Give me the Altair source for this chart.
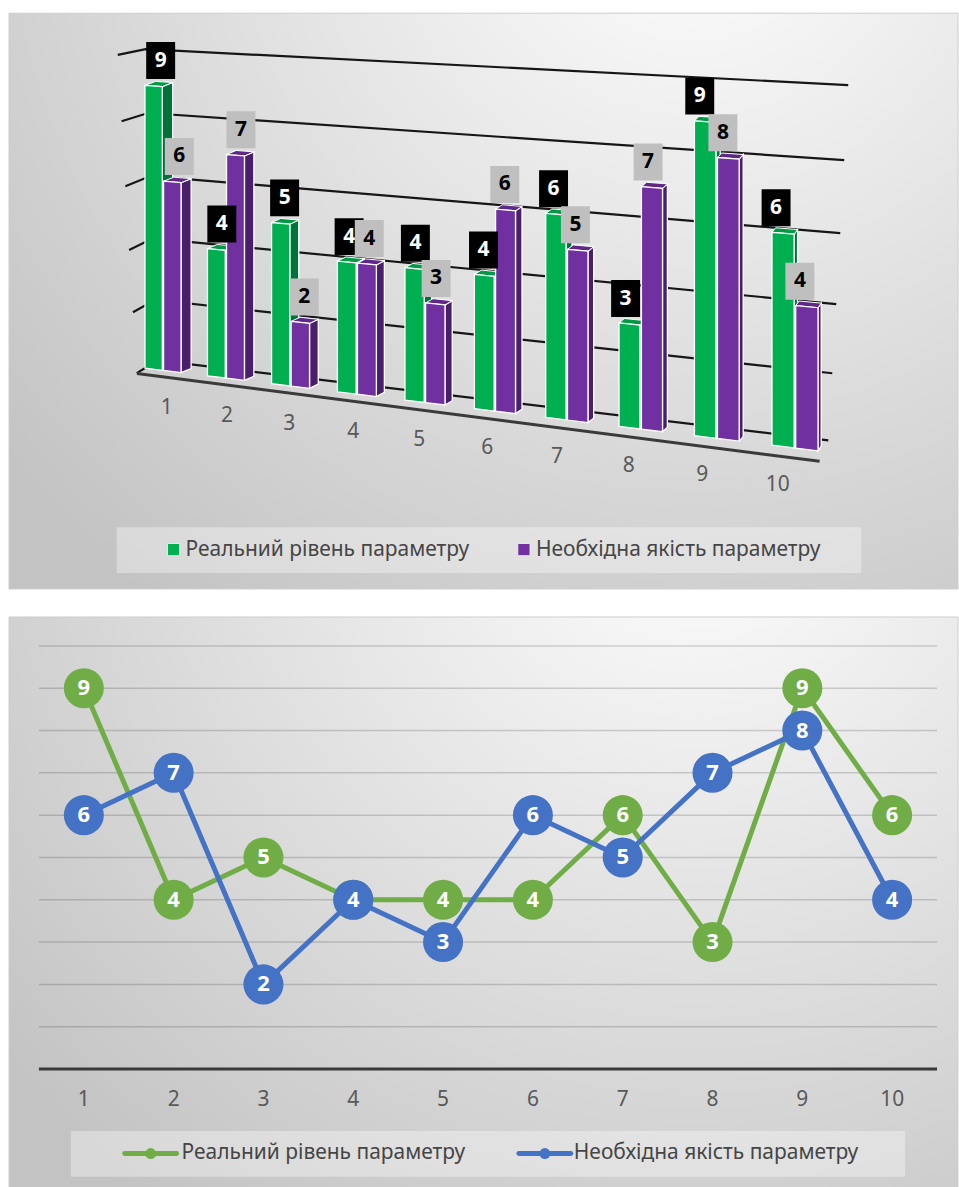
import altair as alt
import pandas as pd

# ---------------- data ----------------
categories = [1, 2, 3, 4, 5, 6, 7, 8, 9, 10]
real_level = [9, 4, 5, 4, 4, 4, 6, 3, 9, 6]
required_quality = [6, 7, 2, 4, 3, 6, 5, 7, 8, 4]
series_names = ["Реальний рівень параметру", "Необхідна якість параметру"]
wall_levels = [0, 2, 4, 6, 8, 10]
grid_levels = [1, 2, 3, 4, 5, 6, 7, 8, 9, 10]

# ---------------- style ----------------
FONT = "Noto Sans"
LABEL_GREY = "#595959"
LEGEND_GREY = "#454545"
GREEN_FRONT, GREEN_SIDE, GREEN_TOP = "#00B050", "#00733A", "#009A45"
PURPLE_FRONT, PURPLE_SIDE, PURPLE_TOP = "#7030A0", "#4A1F6A", "#5F2888"
LINE_GREEN, LINE_BLUE = "#70AD47", "#4472C4"

PW = 951             # panel width
PH1, PH2 = 577, 573  # panel heights
OX, OY = 8, 11       # page offset of the upper panel

panel_fill = alt.RadialGradient(
    gradient="radial",
    x1=0.72, y1=0.06, r1=0.0,
    x2=0.72, y2=0.06, r2=0.95,
    stops=[alt.GradientStop(offset=0, color="#ffffff"),
           alt.GradientStop(offset=1, color="#c3c3c3")],
)


def background(h):
    return alt.Chart(alt.Data(values=[{}])).mark_rect(
        fill=panel_fill, stroke="#cfcfcf", strokeWidth=1
    ).encode(x=alt.value(0), x2=alt.value(PW), y=alt.value(0), y2=alt.value(h))


# ======================================================================
# Upper panel: 3-D clustered columns drawn through a perspective camera
# ======================================================================
def W(t):
    return f"(1-0.012617*({t}))"


def PX(t, z="0"):
    return f"((101.39+59.45*({t})+(11-0.8*({t}))*({z}))/{W(t)}-{OX})"


def PY(t, v, z="0"):
    return f"((361.4+2.9*({t})-31.2*({v})-4*({z}))/{W(t)}-{OY})"


bars = pd.DataFrame({
    "cat": categories * 2,
    "s": [0] * len(categories) + [1] * len(categories),
    "v": real_level + required_quality,
})

xs = alt.Scale(domain=[0, PW], nice=False, zero=False)
ys = alt.Scale(domain=[PH1, 0], nice=False, zero=False)


def enc_area():
    return dict(
        x=alt.X("xa:Q", scale=xs, axis=None),
        y=alt.Y("ya:Q", scale=ys, axis=None, stack=None),
        y2="yb:Q",
        detail="bid:N",
    )


def bar_base(s):
    return (
        alt.Chart(bars)
        .transform_filter(f"datum.s == {s}")
        .transform_calculate(
            t0="datum.cat - 0.30 + 0.30*datum.s",
            t1="datum.cat - 0.30 + 0.30*datum.s + 0.28",
            bid="datum.cat*2 + datum.s",
        )
    )


def front_face(s, color):
    return (
        bar_base(s)
        .transform_calculate(k="[0,1]")
        .transform_flatten(["k"])
        .transform_calculate(tk="datum.k == 0 ? datum.t0 : datum.t1")
        .transform_calculate(
            xa=PX("datum.tk"),
            ya=PY("datum.tk", "datum.v"),
            yb=PY("datum.tk", "0"),
        )
        .mark_area(fill=color, stroke="white", strokeWidth=1.3, opacity=1)
        .encode(**enc_area())
    )


def side_face(s, color):
    return (
        bar_base(s)
        .transform_calculate(k="[0,1]")
        .transform_flatten(["k"])
        .transform_calculate(
            xa=PX("datum.t1", "datum.k"),
            ya=PY("datum.t1", "datum.v", "datum.k"),
            yb=PY("datum.t1", "0", "datum.k"),
        )
        .mark_area(fill=color, stroke="white", strokeWidth=1.3, opacity=1)
        .encode(**enc_area())
    )


def top_face(s, color):
    return (
        bar_base(s)
        .transform_calculate(
            flx=PX("datum.t0", "0"), fly=PY("datum.t0", "datum.v", "0"),
            frx=PX("datum.t1", "0"), fry=PY("datum.t1", "datum.v", "0"),
            blx=PX("datum.t0", "1"), bly=PY("datum.t0", "datum.v", "1"),
            brx=PX("datum.t1", "1"), bry=PY("datum.t1", "datum.v", "1"),
        )
        .transform_calculate(k="[0,1,2,3]")
        .transform_flatten(["k"])
        .transform_calculate(
            xa="datum.k == 0 ? datum.flx : datum.k == 1 ? datum.blx : "
               "datum.k == 2 ? datum.frx : datum.brx",
            ya="datum.k == 0 ? datum.fly : datum.k == 1 ? datum.bly : "
               "datum.k == 2 ? datum.bly + (datum.bry-datum.bly)*(datum.frx-datum.blx)/(datum.brx-datum.blx) : "
               "datum.bry",
            yb="datum.k == 0 ? datum.fly : "
               "datum.k == 1 ? datum.fly + (datum.fry-datum.fly)*(datum.blx-datum.flx)/(datum.frx-datum.flx) : "
               "datum.k == 2 ? datum.fry : datum.bry",
        )
        .mark_area(fill=color, stroke="white", strokeWidth=1.0, opacity=1)
        .encode(**enc_area())
    )


def value_labels(s, box_color, text_color):
    base = bar_base(s).transform_calculate(
        cx=f"({PX('datum.t0')}+{PX('datum.t1')})/2 + 8.6 - 1.56*datum.cat",
        by=f"{PY('(datum.t0+datum.t1)/2', 'datum.v')} - 7",
    ).transform_calculate(
        bx1="datum.cx - 14.5", bx2="datum.cx + 14.5",
        by1="datum.by - 37", ty="datum.by - 18.5",
    )
    box = base.mark_rect(fill=box_color).encode(
        x=alt.X("bx1:Q", scale=xs, axis=None), x2="bx2:Q",
        y=alt.Y("by1:Q", scale=ys, axis=None), y2="by:Q",
    )
    txt = base.mark_text(
        font=FONT, fontSize=21, fontWeight="bold", color=text_color, baseline="middle"
    ).encode(
        x=alt.X("cx:Q", scale=xs, axis=None),
        y=alt.Y("ty:Q", scale=ys, axis=None),
        text="v:Q",
    )
    return box + txt


# walls: each level runs across the side wall and then along the back wall
walls = (
    alt.Chart(pd.DataFrame({"L": wall_levels}))
    .transform_calculate(k="[0,1,2]")
    .transform_flatten(["k"])
    .transform_calculate(
        xa=f"(datum.k == 0 ? 136 - 1.9*datum.L : datum.k == 1 ? 157 - 1.2*datum.L : 829 + 2*datum.L) - {OX}",
        ya=f"(datum.k == 0 ? 371.7 - 30.2*datum.L - 0.17*datum.L*datum.L : "
           f"datum.k == 1 ? 359 - 30.2*datum.L - 0.1*datum.L*datum.L : "
           f"439 - 33.1*datum.L - 0.25*datum.L*datum.L) - {OY}",
    )
    .mark_line(color="#161616", strokeWidth=2.2)
    .encode(
        x=alt.X("xa:Q", scale=xs, axis=None),
        y=alt.Y("ya:Q", scale=ys, axis=None),
        detail="L:N",
        order="k:Q",
    )
)

floor_front = (
    alt.Chart(pd.DataFrame({"t": [categories[0] - 0.43, categories[-1] + 0.3]}))
    .transform_calculate(
        xa=PX("datum.t"),
        ya=f"(361.4+2.9*datum.t+6.2+0.27*datum.t)/{W('datum.t')}-{OY}",
    )
    .mark_line(color="#3a3a3a", strokeWidth=3)
    .encode(x=alt.X("xa:Q", scale=xs, axis=None), y=alt.Y("ya:Q", scale=ys, axis=None))
)

cat_labels = (
    alt.Chart(pd.DataFrame({"cat": categories}))
    .transform_calculate(
        xa=f"166 + 59.5*(datum.cat-1) + 0.95*(datum.cat-1)*(datum.cat-1) - {OX}",
        ya=f"407 + 7.4*(datum.cat-1) + 0.12*(datum.cat-1)*(datum.cat-1) - {OY}",
    )
    .mark_text(font=FONT, fontSize=21, color=LABEL_GREY, baseline="middle")
    .encode(x=alt.X("xa:Q", scale=xs, axis=None), y=alt.Y("ya:Q", scale=ys, axis=None),
            text="cat:N")
)


def legend_box(x0, x1):
    return alt.Chart(alt.Data(values=[{}])).mark_rect(fill="#ffffff", opacity=0.35).encode(
        x=alt.value(x0), x2=alt.value(x1), y=alt.value(515), y2=alt.value(561)
    )


def legend_text(name, x):
    return alt.Chart(pd.DataFrame({"name": [name]})).mark_text(
        font=FONT, fontSize=21, color=LEGEND_GREY, align="left", baseline="middle"
    ).encode(x=alt.value(x), y=alt.value(537.5), text="name:N")


def legend_square(color, x):
    return alt.Chart(alt.Data(values=[{}])).mark_square(
        size=150, fill=color, stroke="#e8e8e8", strokeWidth=1, opacity=1
    ).encode(x=alt.value(x), y=alt.value(537.5))


top = alt.layer(
    background(PH1),
    walls,
    floor_front,
    side_face(0, GREEN_SIDE), top_face(0, GREEN_TOP), front_face(0, GREEN_FRONT),
    side_face(1, PURPLE_SIDE), top_face(1, PURPLE_TOP), front_face(1, PURPLE_FRONT),
    value_labels(0, "#000000", "#ffffff"),
    value_labels(1, "#BFBFBF", "#000000"),
    cat_labels,
    legend_box(108, 854),
    legend_square(GREEN_FRONT, 165), legend_text(series_names[0], 177),
    legend_square(PURPLE_FRONT, 516), legend_text(series_names[1], 528),
).properties(width=PW, height=PH1)

# ======================================================================
# Lower panel: line chart with labelled markers
# ======================================================================
points = pd.DataFrame({
    "cat": categories * 2,
    "v": real_level + required_quality,
    "series": [series_names[0]] * len(categories) + [series_names[1]] * len(categories),
})

bxs = alt.Scale(domain=[0.5, 10.5], range=[30, 930], nice=False, zero=False)
bys = alt.Scale(domain=[0, 10], range=[453, 29], nice=False, zero=False)

grid = alt.Chart(pd.DataFrame({"lvl": grid_levels})).mark_rule(
    color="#000000", opacity=0.16, strokeWidth=1.5
).encode(y=alt.Y("lvl:Q", scale=bys, axis=None), x=alt.value(30), x2=alt.value(930))

base_axis = alt.Chart(pd.DataFrame({"lvl": [0]})).mark_rule(
    color="#3a3a3a", strokeWidth=3
).encode(y=alt.Y("lvl:Q", scale=bys, axis=None), x=alt.value(30), x2=alt.value(930))

x_labels = alt.Chart(pd.DataFrame({"cat": categories})).mark_text(
    font=FONT, fontSize=21, color=LABEL_GREY, baseline="middle"
).encode(x=alt.X("cat:Q", scale=bxs, axis=None), y=alt.value(484), text="cat:N")


def series_layers(name, color):
    src = alt.Chart(points).transform_filter(alt.datum.series == name)
    enc = dict(x=alt.X("cat:Q", scale=bxs, axis=None), y=alt.Y("v:Q", scale=bys, axis=None))
    line = src.mark_line(color=color, strokeWidth=5, strokeJoin="round").encode(**enc)
    dots = src.mark_circle(color=color, size=1610, opacity=1).encode(**enc)
    labels = src.mark_text(
        font=FONT, fontSize=22, fontWeight="bold", color="white", baseline="middle"
    ).encode(text="v:Q", **enc)
    return [line, dots, labels]


def legend_line(color, x0, x1):
    rule = alt.Chart(alt.Data(values=[{}])).mark_rule(
        color=color, strokeWidth=5, strokeCap="round"
    ).encode(x=alt.value(x0), x2=alt.value(x1), y=alt.value(537.7))
    dot = alt.Chart(alt.Data(values=[{}])).mark_circle(
        color=color, size=120, opacity=1
    ).encode(x=alt.value((x0 + x1) / 2), y=alt.value(537.7))
    return rule + dot


bottom = alt.layer(
    background(PH2),
    grid,
    base_axis,
    *series_layers(series_names[0], LINE_GREEN),
    *series_layers(series_names[1], LINE_BLUE),
    x_labels,
    legend_box(62, 898),
    legend_line(LINE_GREEN, 116, 168), legend_text(series_names[0], 173),
    legend_line(LINE_BLUE, 511, 563), legend_text(series_names[1], 566),
).properties(width=PW, height=PH2)

chart = (
    alt.vconcat(top, bottom, spacing=26)
    .properties(padding={"left": OX, "top": OY, "right": 0, "bottom": 0}, background="white")
    .configure_view(stroke=None)
)

chart.save("out.html", embed_options={"renderer": "svg", "actions": False})
